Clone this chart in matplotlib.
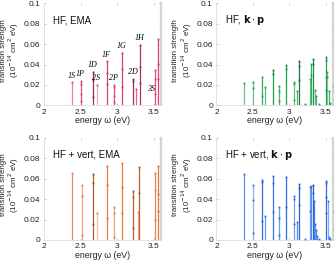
import matplotlib
matplotlib.use('Agg')
import matplotlib.pyplot as plt
from matplotlib.colors import to_rgb

plt.rcParams['font.family'] = ['Liberation Sans', 'DejaVu Sans']
plt.rcParams['mathtext.fontset'] = 'dejavusans'

# HF, EMA
ema_hf_energy = [2.39, 2.51, 2.67, 2.72, 2.855, 2.955, 3.065, 3.22, 3.255, 3.31, 3.52, 3.56]
ema_hf_levels = [[0.0225], [0.0236, 0.021, 0.011, 0.0046], [0.0325, 0.025, 0.008], [0.0197],
                 [0.043, 0.032, 0.0207], [0.020, 0.0177, 0.009, 0.0036], [0.0518, 0.0354, 0.0177],
                 [0.026, 0.024], [0.016], [0.059, 0.038, 0.022], [0.035, 0.026, 0.011],
                 [0.065, 0.0407, 0.0256]]
ema_hf_states = ['1S', '1P', '1D', '2S', '1F', '2P', '1G', '2D', '3S', '1H', '', '']
ema_hf_shade = [0.35, 0.1, -0.25, 0.55, 0.0, 0.1, 0.0, -0.25, 0.2, -0.2, 0.1, 0.0]

# HF + vert, EMA
ema_vert_energy = [2.386, 2.514, 2.673, 2.72, 2.855, 2.955, 3.068, 3.218, 3.278, 3.30, 3.514, 3.56]
ema_vert_levels = [[0.0658], [0.054, 0.043, 0.005], [0.065, 0.056, 0.016], [0.026],
                   [0.0726, 0.054, 0.022], [0.0326, 0.026, 0.003], [0.0753, 0.0515, 0.026],
                   [0.048, 0.0417, 0.0114], [0.0277], [0.071, 0.046], [0.0658, 0.049, 0.020],
                   [0.0726, 0.045, 0.028]]
ema_vert_shade = [0.15, 0.35, -0.25, 0.55, 0.05, 0.3, 0.05, -0.2, 0.45, -0.2, 0.1, 0.0]

# HF, k.p
kp_hf_energy = [2.376, 2.495, 2.628, 2.67, 2.78, 2.858, 2.95, 3.064, 3.106, 3.133, 3.206,
                3.275, 3.298, 3.32, 3.35, 3.36, 3.41, 3.50, 3.52, 3.54, 3.56, 3.605]
kp_hf_levels = [[0.0223], [0.023, 0.017], [0.0277, 0.009], [0.018], [0.035, 0.031],
                [0.019, 0.014, 0.004], [0.040, 0.036], [0.023, 0.021, 0.005], [0.014],
                [0.0435, 0.039, 0.025], [0.0013], [0.0255], [0.041, 0.030], [0.045, 0.041],
                [0.015], [0.009], [0.0016], [0.047, 0.044, 0.028, 0.015], [0.033, 0.028],
                [0.014], [0.002], [0.019]]
kp_hf_shade = [0.35, 0.35, 0.1, 0.3, 0.0, 0.2, 0.0, 0.35, 0.2, -0.2, 0.2,
               0.35, 0.1, -0.1, 0.3, 0.2, 0.2, 0.0, 0.4, 0.2, 0.2, 0.3]

# HF + vert, k.p
kp_vert_energy = [2.376, 2.495, 2.628, 2.67, 2.78, 2.858, 2.95, 3.064, 3.106, 3.133, 3.206,
                  3.275, 3.298, 3.32, 3.33, 3.35, 3.36, 3.38, 3.41, 3.50, 3.53, 3.54, 3.56, 3.605]
kp_vert_levels = [[0.0645], [0.054, 0.039, 0.0065], [0.059, 0.057, 0.019], [0.023],
                  [0.0626, 0.056, 0.027], [0.032, 0.022, 0.005], [0.062, 0.032],
                  [0.043, 0.040, 0.016], [0.018], [0.055, 0.051, 0.034], [0.0013],
                  [0.052, 0.028], [0.053], [0.0535, 0.046], [0.038], [0.0155], [0.010],
                  [0.004], [0.0013], [0.058, 0.0555, 0.042, 0.026], [0.038], [0.0026],
                  [0.001], [0.0275, 0.011]]
kp_vert_shade = [0.25, 0.45, 0.0, 0.3, 0.05, 0.3, 0.0, 0.35, 0.2, -0.1, 0.2,
                 0.35, 0.2, -0.1, 0.1, 0.3, 0.2, 0.2, 0.2, 0.0, 0.4, 0.2, 0.2, 0.3]

x_ticks = [2, 2.5, 3, 3.5]
y_ticks = [0, 0.02, 0.04, 0.06, 0.08, 0.1]


def shade(color, f):
    r, g, b = to_rgb(color)
    if f >= 0:
        return (r + (1 - r) * f, g + (1 - g) * f, b + (1 - b) * f)
    return (r * (1 + f), g * (1 + f), b * (1 + f))


def draw_panel(ax, energy, levels, shades, color, title, states=None):
    for i, (e, lv) in enumerate(zip(energy, levels)):
        c = shade(color, shades[i])
        ax.vlines(e, 0, max(lv), color=c, lw=0.9, zorder=2)
        ax.plot([e] * len(lv), lv, 's', ms=1.3, color=shade(color, min(shades[i], 0.1) - 0.1),
                mew=0, zorder=3)
    if states:
        for e, lv, s in zip(energy, levels, states):
            if not s:
                continue
            if s == '3S':
                ax.annotate(s, (e, max(lv)), xytext=(8, 0), textcoords='offset points',
                            ha='left', va='center', fontsize=5.8, style='italic',
                            family='Liberation Serif')
            else:
                ax.annotate(s, (e, max(lv)), xytext=(-0.5, 2), textcoords='offset points',
                            ha='center', va='bottom', fontsize=5.8, style='italic',
                            family='Liberation Serif')
    ax.set_xlim(2, 3.6)
    ax.set_ylim(0, 0.1)
    ax.set_xticks(x_ticks)
    ax.set_xticklabels(['2', '2.5', '3', '3.5'])
    ax.set_yticks(y_ticks)
    ax.set_yticklabels(['0', '0.02', '0.04', '0.06', '0.08', '0.1'])
    ax.tick_params(labelsize=6, direction='in', length=1.5, width=0.5, color='#aaaaaa',
                   top=True, right=True, pad=2.5, labelcolor='#222222')
    for side in ['left', 'bottom']:
        ax.spines[side].set_color('#dddddd')
        ax.spines[side].set_linewidth(0.6)
    ax.spines['right'].set_color('#d4d4d4')
    ax.spines['right'].set_linewidth(1.6)
    ax.spines['top'].set_visible(False)
    ax.set_xlabel('energy ω (eV)', fontsize=6.3, labelpad=0.5, color='#222222')
    ax.set_ylabel('transition strength\n(10$^{-14}$ cm$^2$ eV)', fontsize=5.7,
                  linespacing=1.0, color='#222222')
    ax.yaxis.set_label_coords(-0.195, 0.54)
    ax.text(0.075, 0.835, title, transform=ax.transAxes, fontsize=7, va='center',
            color='#111111')


fig = plt.figure(figsize=(3.35, 2.62), dpi=100)
ax1 = fig.add_axes([0.131, 0.598, 0.350, 0.389])
ax2 = fig.add_axes([0.646, 0.598, 0.349, 0.389])
ax3 = fig.add_axes([0.131, 0.084, 0.350, 0.390])
ax4 = fig.add_axes([0.646, 0.084, 0.349, 0.390])

draw_panel(ax1, ema_hf_energy, ema_hf_levels, ema_hf_shade, '#dc3c78', 'HF, EMA', ema_hf_states)
draw_panel(ax2, kp_hf_energy, kp_hf_levels, kp_hf_shade, '#1f9e4e',
           r'HF, $\mathbf{k}\cdot\mathbf{p}$')
draw_panel(ax3, ema_vert_energy, ema_vert_levels, ema_vert_shade, '#e8773a', 'HF + vert, EMA')
draw_panel(ax4, kp_vert_energy, kp_vert_levels, kp_vert_shade, '#2a6ee6',
           r'HF + vert, $\mathbf{k}\cdot\mathbf{p}$')

fig.savefig('out.png', dpi=100)
